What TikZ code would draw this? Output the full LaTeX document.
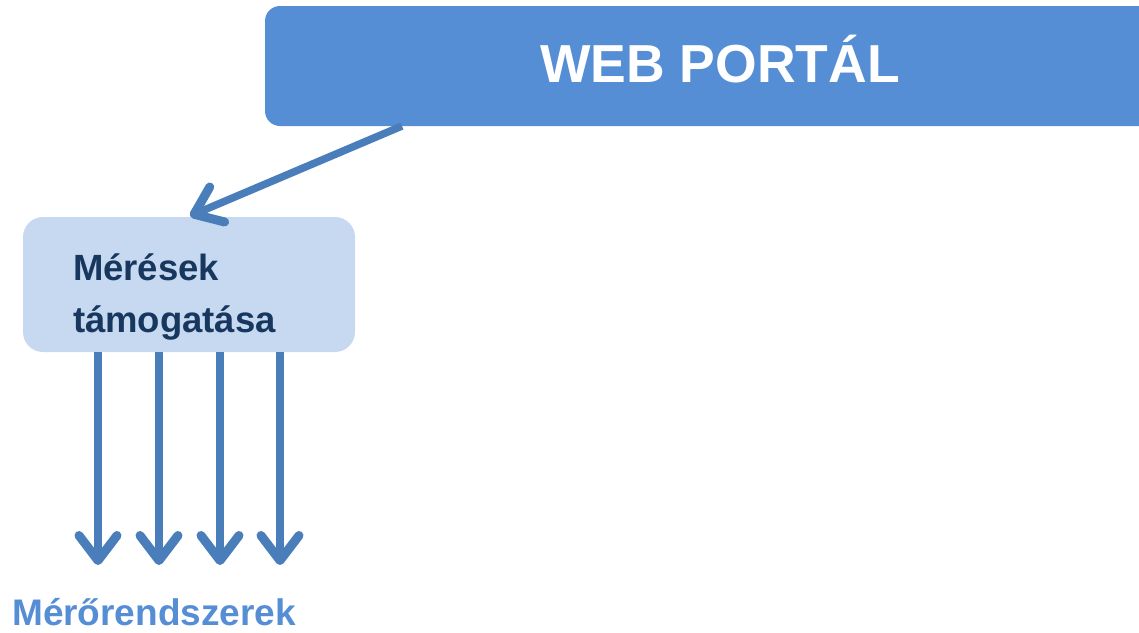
\documentclass[tikz,border=0pt]{standalone}
\usepackage{fontspec}
\setmainfont{Liberation Sans}
\usetikzlibrary{arrows.meta}
\definecolor{portalblue}{HTML}{558ED5}
\definecolor{arrowblue}{HTML}{4A7EBB}
\definecolor{lightblue}{HTML}{C6D9F1}
\definecolor{navy}{HTML}{17375E}
\tikzset{
    portal-box/.style = {fill=portalblue, text=white, rectangle, rounded corners=15pt, minimum width=910pt, minimum height=120pt, text height=40pt, text depth=8pt, font=\fontsize{53.5}{60}\selectfont\bfseries},
    task-box/.style = {fill=lightblue, text=navy, rectangle, rounded corners=20pt, minimum width=332pt, minimum height=135pt, text width=232pt, text height=51pt, align=left, font=\fontsize{36.5}{52}\selectfont\bfseries},
    system-label/.style = {text=portalblue, font=\fontsize{37}{44}\selectfont\bfseries},
    down-arrow/.style = {draw=arrowblue, line width=7.5pt, -{Straight Barb[length=25pt, width=38pt, line width=9pt, round]}},
}

\begin{document}
\begin{tikzpicture}[x=1pt, y=-1pt]
\useasboundingbox (0,0) rectangle (1139,632);
\node [portal-box] (portal) at (720,66) {WEB PORTÁL};
\node [task-box] (meres) at (189,284.5) {Mérések\\támogatása};
\node [system-label, anchor=base west, inner sep=0pt] (rendszer) at (12,625) {Mérőrendszerek};
% arrow from the portal down to the box
\coordinate (portal-out) at (402,126);
\coordinate (meres-in) at (190,216);
\draw [down-arrow] (portal-out) -- (meres-in);
% arrows to the measuring systems
\foreach \x [count=\i] in {98,159,220,280} {
    \coordinate (top-\i) at (\x,352);
    \coordinate (end-\i) at (\x,565);
    \draw [down-arrow] (top-\i) -- (end-\i);
}
\end{tikzpicture}
\end{document}
